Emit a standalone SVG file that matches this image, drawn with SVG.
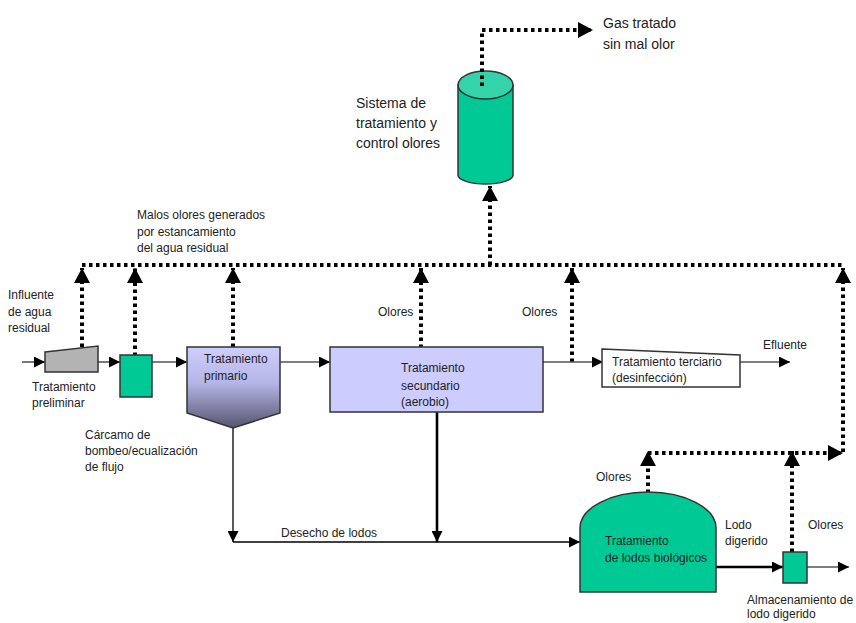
<svg xmlns="http://www.w3.org/2000/svg" width="856" height="623" viewBox="0 0 856 623">
<style>
text{font-family:"Liberation Sans",Arial,sans-serif;font-size:12px;fill:#222}
.big{font-size:14px}
.dot{fill:none;stroke:#000;stroke-width:4;stroke-dasharray:3.5 3.5}
.flow{fill:none;stroke:#555;stroke-width:1.6}
.blk{fill:none;stroke:#000;stroke-width:1.3}
.thk{fill:none;stroke:#000;stroke-width:2.6}
.edge{stroke:#333;stroke-width:1.5}
</style>
<defs>
<marker id="bigA" markerUnits="userSpaceOnUse" markerWidth="16" markerHeight="16" refX="15" refY="8" orient="auto"><path d="M0,0 L15,8 L0,16 z" fill="#000"/></marker>
<marker id="smA" markerUnits="userSpaceOnUse" markerWidth="11" markerHeight="11" refX="11" refY="5.5" orient="auto"><path d="M0,0 L11,5.5 L0,11 z" fill="#000"/></marker>
<linearGradient id="gp" x1="0" y1="0" x2="0" y2="1"><stop offset="0" stop-color="#cfcffd"/><stop offset="0.45" stop-color="#b4b4e6"/><stop offset="1" stop-color="#55556e"/></linearGradient>
</defs>

<g id="connectors">
<path class="dot" d="M82,265 H843"/>
<path class="dot" d="M82,354 V268" marker-end="url(#bigA)"/>
<path class="dot" d="M135,356 V268" marker-end="url(#bigA)"/>
<path class="dot" d="M233,347 V268" marker-end="url(#bigA)"/>
<path class="dot" d="M421,348 V268" marker-end="url(#bigA)"/>
<path class="dot" d="M572,362 V268" marker-end="url(#bigA)"/>
<path class="dot" d="M843,452 V268" marker-end="url(#bigA)"/>
<path class="dot" d="M490,265 V186" marker-end="url(#bigA)"/>
<path class="dot" d="M482,86 V30 H593" marker-end="url(#bigA)"/>
<path class="dot" d="M648,493 V451" marker-end="url(#bigA)"/>
<path class="dot" d="M792,552 V451" marker-end="url(#bigA)"/>
<path class="dot" d="M648,453 H843" marker-end="url(#bigA)"/>
<path class="flow" d="M22,362 H45" marker-end="url(#smA)"/>
<path class="flow" d="M98,362 H120" marker-end="url(#smA)"/>
<path class="flow" d="M152,362 H187" marker-end="url(#smA)"/>
<path class="flow" d="M280,362 H330" marker-end="url(#smA)"/>
<path class="flow" d="M543,362 H603" marker-end="url(#smA)"/>
<path class="flow" d="M740,362 H790" marker-end="url(#smA)"/>
<path class="blk" d="M233,428 V542" marker-end="url(#smA)"/>
<path class="thk" d="M437,412 V542" marker-end="url(#smA)"/>
<path class="blk" d="M233,542 H580" marker-end="url(#smA)"/>
<path class="thk" d="M716,567 H783" marker-end="url(#smA)"/>
<path class="flow" d="M807,567 H849" marker-end="url(#smA)"/>
</g>

<g id="preliminar">
<polygon points="45,352 98,346 98,372 45,372" fill="#b3b3b3" class="edge"/>
</g>
<g id="carcamo">
<rect x="120" y="355" width="32" height="42" fill="#00c995" class="edge"/>
</g>
<g id="primario">
<polygon points="187,347 280,347 280,413 233,428 187,413" fill="url(#gp)" class="edge"/>
<text x="204" y="363">Tratamiento</text>
<text x="204" y="380">primario</text>
</g>
<g id="secundario">
<rect x="330" y="347" width="213" height="65" fill="#ccccff" class="edge"/>
<text x="401" y="372">Tratamiento</text>
<text x="401" y="390">secundario</text>
<text x="401" y="406">(aerobio)</text>
</g>
<g id="terciario">
<polygon points="602,349 740,355 740,387 602,387" fill="#fff" class="edge"/>
<text x="612" y="366">Tratamiento terciario</text>
<text x="612" y="382">(desinfección)</text>
</g>
<g id="lodos">
<path d="M580,592 V528 A68,36 0 0 1 716,528 V592 Z" fill="#00c995" class="edge"/>
<text x="605" y="545">Tratamiento</text>
<text x="605" y="562">de lodos biológicos</text>
</g>
<g id="almacenamiento">
<rect x="783" y="552" width="24" height="31" fill="#00c995" class="edge"/>
</g>
<g id="olores-sistema">
<path d="M458,85 V175 A27.5,9 0 0 0 513,175 V85 Z" fill="#00c995" class="edge"/>
<ellipse cx="485.5" cy="85" rx="27.5" ry="14" fill="#33d4aa" class="edge"/>
<path class="dot" d="M482,86 V70"/>
</g>

<g id="labels">
<text class="big" x="603" y="28">Gas tratado</text>
<text class="big" x="603" y="49">sin mal olor</text>
<text class="big" x="356" y="108">Sistema de</text>
<text class="big" x="356" y="128">tratamiento y</text>
<text class="big" x="356" y="148">control olores</text>
<text x="137" y="219">Malos olores generados</text>
<text x="137" y="236">por estancamiento</text>
<text x="137" y="252">del agua residual</text>
<text x="8" y="299">Influente</text>
<text x="8" y="316">de agua</text>
<text x="8" y="332">residual</text>
<text x="32" y="391">Tratamiento</text>
<text x="32" y="407">preliminar</text>
<text x="85" y="439">Cárcamo de</text>
<text x="85" y="455">bombeo/ecualización</text>
<text x="85" y="471">de flujo</text>
<text x="378" y="316">Olores</text>
<text x="522" y="316">Olores</text>
<text x="763" y="349">Efluente</text>
<text x="281" y="537">Desecho de lodos</text>
<text x="596" y="481">Olores</text>
<text x="725" y="529">Lodo</text>
<text x="725" y="545">digerido</text>
<text x="808" y="529">Olores</text>
<text x="747" y="604">Almacenamiento de</text>
<text x="747" y="618">lodo digerido</text>
</g>
</svg>
